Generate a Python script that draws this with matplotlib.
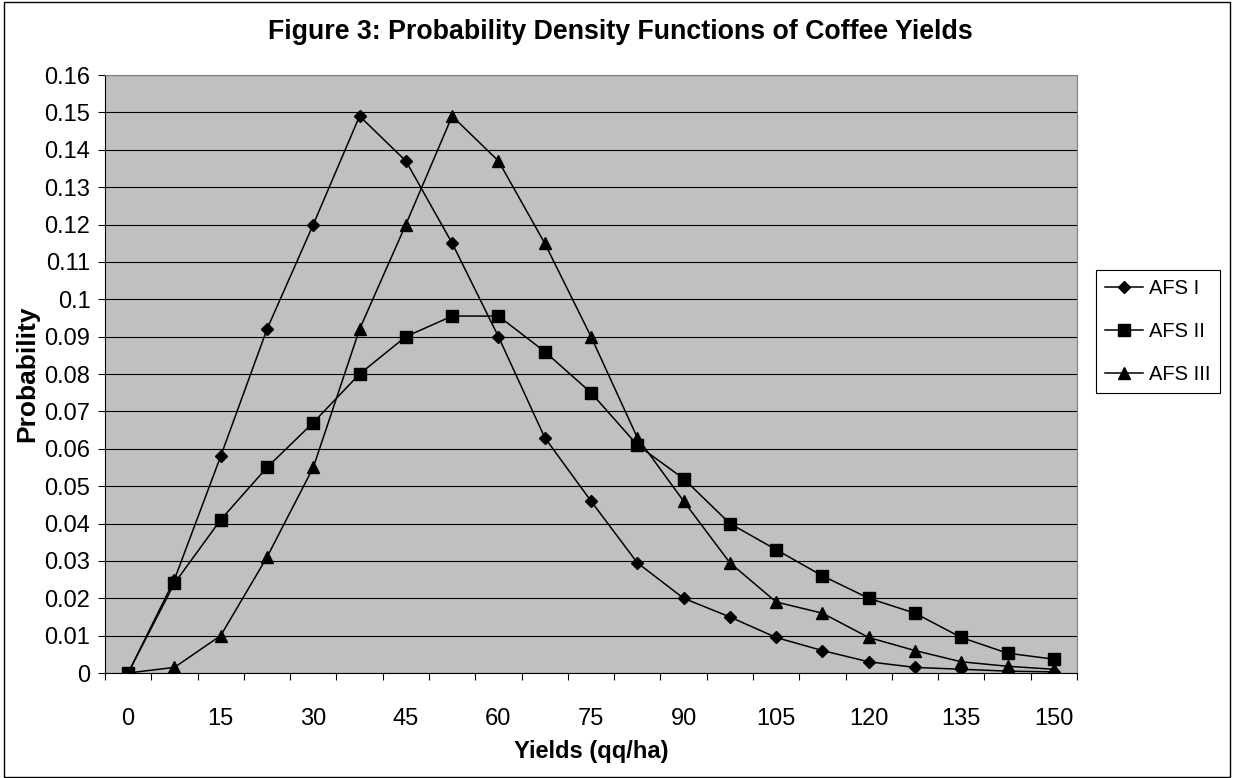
import matplotlib.pyplot as plt
from matplotlib.patches import Rectangle
from matplotlib.ticker import FixedLocator, FuncFormatter

# Yield categories (qq/ha), one point every 7.5
yields = [0, 7.5, 15, 22.5, 30, 37.5, 45, 52.5, 60, 67.5, 75,
          82.5, 90, 97.5, 105, 112.5, 120, 127.5, 135, 142.5, 150]

afs_1 = [0, 0.025, 0.058, 0.092, 0.120, 0.149, 0.137, 0.115, 0.090, 0.063, 0.046,
         0.0295, 0.020, 0.015, 0.0095, 0.006, 0.003, 0.0015, 0.001, 0.0005, 0.0003]
afs_2 = [0, 0.024, 0.041, 0.055, 0.067, 0.080, 0.090, 0.0955, 0.0955, 0.086, 0.075,
         0.061, 0.052, 0.040, 0.033, 0.026, 0.020, 0.016, 0.0095, 0.0053, 0.0037]
afs_3 = [0, 0.0015, 0.010, 0.031, 0.055, 0.092, 0.120, 0.149, 0.137, 0.115, 0.090,
         0.063, 0.046, 0.0295, 0.019, 0.016, 0.0095, 0.006, 0.003, 0.0018, 0.001]

series_names = ["AFS I", "AFS II", "AFS III"]

plt.rcParams['font.family'] = ['Liberation Sans', 'DejaVu Sans']

W, H = 1233, 778
fig = plt.figure(figsize=(W / 100, H / 100), dpi=100)
fig.patch.set_facecolor('white')

# outer chart border
fig.patches.append(Rectangle((4 / W, 1 / H), 1226 / W, 775 / H, transform=fig.transFigure,
                             fill=False, edgecolor='black', linewidth=1))

ax = fig.add_axes([105 / W, 1 - 673 / H, 972 / W, 598 / H])
ax.set_facecolor('#C0C0C0')

# Excel category axis: points sit at index positions
idx = list(range(len(yields)))
ax.plot(idx, afs_1, color='black', lw=1.1, marker='D', ms=6, label=series_names[0])
ax.plot(idx, afs_2, color='black', lw=1.1, marker='s', ms=8.5, label=series_names[1])
ax.plot(idx, afs_3, color='black', lw=1.1, marker='^', ms=8.5, label=series_names[2])

ax.set_xlim(-0.5, len(yields) - 0.5)
ax.set_ylim(0, 0.16)

# y axis ticks and gridlines
yt = [i / 100 for i in range(17)]
ax.set_yticks(yt)
ax.yaxis.set_major_formatter(FuncFormatter(lambda v, p: '%g' % round(v, 2)))
ax.yaxis.grid(True, color='black', linewidth=0.8)
ax.set_axisbelow(True)
ax.tick_params(axis='y', direction='out', length=5, width=0.8, pad=5.5, labelsize=17)

# x axis: labels every other category, tick marks at category boundaries
ax.set_xticks(idx[::2])
ax.set_xticklabels(['%g' % v for v in yields[::2]])
ax.xaxis.set_minor_locator(FixedLocator([i - 0.5 for i in range(len(yields) + 1)]))
ax.tick_params(axis='x', which='major', length=0, pad=25, labelsize=17)
ax.tick_params(axis='x', which='minor', direction='out', length=5, width=0.8)

for s in ['top', 'right']:
    ax.spines[s].set_color('#808080')
for s in ['left', 'bottom']:
    ax.spines[s].set_color('black')

ax.set_xlabel('Yields (qq/ha)', fontsize=17, fontweight='bold', labelpad=7.5)
ax.set_ylabel('Probability', fontsize=19, fontweight='bold', va='center')
ax.yaxis.set_label_coords(-0.080, 0.5)

fig.text(620 / W, 1 - 39 / H, 'Figure 3: Probability Density Functions of Coffee Yields',
         ha='center', va='baseline', fontsize=19.3, fontweight='bold')

leg = ax.legend(loc='upper left', bbox_to_anchor=(1096 / W, 1 - 270 / H),
                bbox_transform=fig.transFigure, fontsize=14.5, frameon=True,
                fancybox=False, framealpha=1, edgecolor='black',
                handlelength=1.9, labelspacing=1.2, borderpad=0.45, handletextpad=0.3,
                borderaxespad=0)
leg.get_frame().set_linewidth(0.8)

fig.savefig('out.png', dpi=100)
